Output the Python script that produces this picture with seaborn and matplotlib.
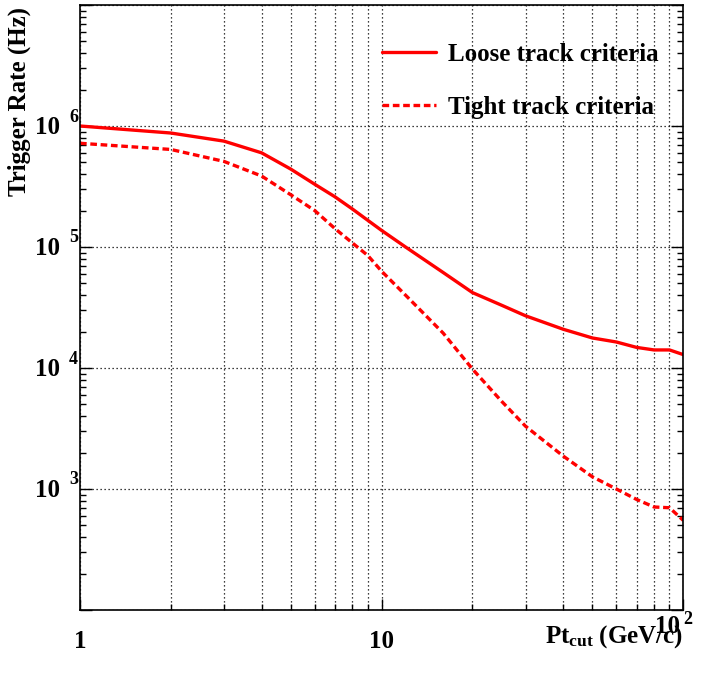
import numpy as np
import pandas as pd
import matplotlib
matplotlib.use("Agg")
import matplotlib.pyplot as plt
import matplotlib.transforms as mtransforms
from matplotlib.ticker import LogLocator, NullFormatter
import seaborn as sns

# Trigger rate versus transverse-momentum threshold
pt_cut = [1, 2, 3, 4, 5, 6, 7, 8, 9, 10, 12, 16, 20, 25, 30, 40, 50, 60, 70, 80, 90, 100]
rate_loose = [1.0e6, 8.75e5, 7.5e5, 6.0e5, 4.4e5, 3.3e5, 2.6e5, 2.06e5, 1.66e5, 1.37e5,
              1.0e5, 6.15e4, 4.2e4, 3.3e4, 2.7e4, 2.09e4, 1.77e4, 1.64e4, 1.48e4,
              1.41e4, 1.41e4, 1.29e4]
rate_tight = [7.2e5, 6.4e5, 5.1e5, 3.86e5, 2.7e5, 2.0e5, 1.42e5, 1.08e5, 8.5e4, 6.3e4,
              4.0e4, 1.94e4, 9.8e3, 5.3e3, 3.3e3, 1.87e3, 1.26e3, 1.0e3, 8.2e2,
              7.1e2, 7.0e2, 5.5e2]
series_labels = ["Loose track criteria", "Tight track criteria"]
x_tick_values = [1, 10, 100]
y_tick_exponents = [3, 4, 5, 6]

df = pd.concat([
    pd.DataFrame({"pt": pt_cut, "rate": rate_loose, "criteria": series_labels[0]}),
    pd.DataFrame({"pt": pt_cut, "rate": rate_tight, "criteria": series_labels[1]}),
])

sns.set_theme(style="white")
plt.rcParams["font.family"] = ["Liberation Serif", "DejaVu Serif"]
plt.rcParams["font.weight"] = "bold"
plt.rcParams["text.color"] = "black"
plt.rcParams["axes.labelcolor"] = "black"
plt.rcParams["mathtext.fontset"] = "custom"
plt.rcParams["mathtext.rm"] = "Liberation Serif:bold"
plt.rcParams["mathtext.it"] = "Liberation Serif:bold"
plt.rcParams["mathtext.bf"] = "Liberation Serif:bold"

FS = 18
PX = 0.72  # points per pixel at 100 dpi
fig = plt.figure(figsize=(7.10, 6.79), dpi=100)
ax = fig.add_axes([80 / 710, 1 - 610 / 679, (683.3 - 80) / 710, (610 - 5) / 679])

red = "#ff0000"
sns.lineplot(data=df, x="pt", y="rate", style="criteria", color=red,
             dashes={series_labels[0]: "", series_labels[1]: (2.0, 1.1)},
             linewidth=2.4, ax=ax, legend=True)

ax.set_xscale("log")
ax.set_yscale("log")
ax.set_xlim(1, 100)
ax.set_ylim(1e2, 1e7)

# grid: every x decade subdivision, y decades only
grid_kw = dict(color="black", linestyle=(0, (1, 2.2)), linewidth=0.9)
ax.xaxis.set_minor_locator(LogLocator(base=10, subs=np.arange(2, 10), numticks=20))
ax.yaxis.set_minor_locator(LogLocator(base=10, subs=np.arange(2, 10), numticks=20))
ax.grid(which="both", axis="x", **grid_kw)
ax.grid(which="major", axis="y", **grid_kw)
ax.set_axisbelow(True)

ax.xaxis.set_major_formatter(NullFormatter())
ax.xaxis.set_minor_formatter(NullFormatter())
ax.yaxis.set_major_formatter(NullFormatter())
ax.yaxis.set_minor_formatter(NullFormatter())

ax.tick_params(axis="y", which="major", direction="in", length=8.6, width=1.0,
               left=True, right=True, color="black")
ax.tick_params(axis="y", which="minor", direction="in", length=4.3, width=1.0,
               left=True, right=True, color="black")
ax.tick_params(axis="x", which="major", direction="in", length=8, width=1.0,
               bottom=True, top=False, color="black")
ax.tick_params(axis="x", which="minor", direction="in", length=4.5, width=1.0,
               bottom=True, top=False, color="black")
for sp in ax.spines.values():
    sp.set_visible(True)
    sp.set_color("black")
    sp.set_linewidth(1.2)

ax.set_xlabel("")
ax.set_ylabel("")

# y tick labels in ROOT style: "10" with a detached exponent
ytr = mtransforms.blended_transform_factory(ax.transAxes, ax.transData)
for e in y_tick_exponents:
    t_base = mtransforms.offset_copy(ytr, fig=fig, x=-20 * PX, y=-1.5 * PX, units="points")
    ax.text(0, 10.0 ** e, "10", transform=t_base, ha="right", va="center",
            fontsize=FS, fontweight="bold", color="black")
    t_exp = mtransforms.offset_copy(ytr, fig=fig, x=-11 * PX, y=0.5 * PX, units="points")
    ax.text(0, 10.0 ** e, str(e), transform=t_exp, ha="left", va="bottom",
            fontsize=FS * 0.72, fontweight="bold", color="black")

# x tick labels
xtr = mtransforms.blended_transform_factory(ax.transData, ax.transAxes)
for v in x_tick_values[:-1]:
    t = mtransforms.offset_copy(xtr, fig=fig, x=0, y=-20 * PX, units="points")
    ax.text(v, 0, str(v), transform=t, ha="center", va="top",
            fontsize=FS, fontweight="bold", color="black")
t = mtransforms.offset_copy(xtr, fig=fig, x=-3 * PX, y=-5 * PX, units="points")
ax.text(x_tick_values[-1], 0, "10", transform=t, ha="right", va="top",
        fontsize=FS, fontweight="bold", color="black")
t = mtransforms.offset_copy(xtr, fig=fig, x=0, y=-1 * PX, units="points")
ax.text(x_tick_values[-1], 0, "2", transform=t, ha="left", va="top",
        fontsize=FS * 0.72, fontweight="bold", color="black")

# axis titles
ax.text(1.0, -33 / 605, r"Pt$_{\rm cut}$ (GeV/c)", transform=ax.transAxes,
        ha="right", va="baseline", fontsize=FS, fontweight="bold", color="black")
fig.text(8 / 710, 1 - 7 / 679, "Trigger Rate (Hz)", rotation=90,
         ha="left", va="top", fontsize=FS, fontweight="bold", color="black")

leg = ax.legend(loc="upper left", bbox_to_anchor=(0.5006, 1 - 38 / 605),
                frameon=False, fontsize=FS, handlelength=2.15, handletextpad=0.5,
                labelspacing=1.2, borderpad=0, borderaxespad=0)
for txt in leg.get_texts():
    txt.set_fontweight("bold")
    txt.set_color("black")

fig.savefig("out.png", dpi=100, facecolor="white")
